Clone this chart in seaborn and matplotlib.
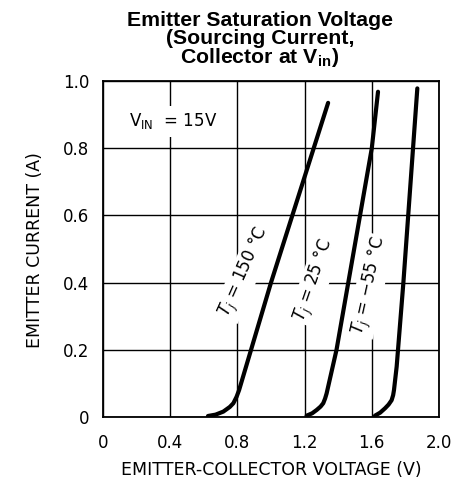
import numpy as np
import pandas as pd
import seaborn as sns
import matplotlib
matplotlib.use("Agg")
import matplotlib.pyplot as plt

# curves (V, A)
v_150 = [0.625, 0.67, 0.716, 0.755, 0.776, 0.795, 0.81, 1.0, 1.34]
i_150 = [0.003, 0.007, 0.016, 0.03, 0.041, 0.06, 0.08, 0.40, 0.935]
v_25 = [1.212, 1.245, 1.272, 1.295, 1.311, 1.322, 1.331, 1.39, 1.46, 1.60, 1.637]
i_25 = [0.004, 0.011, 0.021, 0.031, 0.041, 0.055, 0.07, 0.20, 0.40, 0.80, 0.968]
v_m55 = [1.619, 1.65, 1.679, 1.70, 1.718, 1.727, 1.732, 1.748, 1.788, 1.871]
i_m55 = [0.004, 0.013, 0.026, 0.037, 0.05, 0.065, 0.08, 0.15, 0.40, 0.978]

curve_labels = [r"$T_j$ = 150 °C", r"$T_j$ = 25 °C", r"$T_j$ = −55 °C"]
x_ticks = [0, 0.4, 0.8, 1.2, 1.6, 2.0]
x_tick_labels = ["0", "0.4", "0.8", "1.2", "1.6", "2.0"]
y_ticks = [0, 0.2, 0.4, 0.6, 0.8, 1.0]
y_tick_labels = ["0", "0.2", "0.4", "0.6", "0.8", "1.0"]

sns.set_style("white")
plt.rcParams["font.family"] = ["DejaVu Sans"]
plt.rcParams["text.color"] = "black"
plt.rcParams["mathtext.fontset"] = "custom"
plt.rcParams["mathtext.rm"] = "DejaVu Sans"
plt.rcParams["mathtext.it"] = "DejaVu Sans:italic"
plt.rcParams["mathtext.bf"] = "Liberation Sans:bold"

fig = plt.figure(figsize=(4.6, 4.96), dpi=100)
ax = fig.add_axes([103 / 460, 1 - 417 / 496, 336 / 460, 336 / 496])

for v, i in [(v_150, i_150), (v_25, i_25), (v_m55, i_m55)]:
    df = pd.DataFrame({"v": v, "i": i})
    sns.lineplot(data=df, x="v", y="i", ax=ax, color="black", lw=3,
                 sort=False, estimator=None, zorder=4)

ax.set_xlim(0, 2.0)
ax.set_ylim(0, 1.0)
ax.set_xticks(x_ticks)
ax.set_xticklabels(x_tick_labels)
ax.set_yticks(y_ticks)
ax.set_yticklabels(y_tick_labels)
ax.tick_params(axis="both", length=0, labelsize=12, colors="black")
ax.tick_params(axis="x", pad=12)
ax.tick_params(axis="y", pad=10)
ax.grid(True, color="black", lw=1.0)
ax.set_axisbelow(True)
for s in ax.spines.values():
    s.set_color("black")
    s.set_linewidth(1.3)
ax.set_xlabel("")
ax.set_ylabel("")

box = dict(facecolor="white", edgecolor="none", pad=1.5)
label_pos = [(0.845, 0.43, 66), (1.262, 0.405, 71), (1.59, 0.39, 77.5)]
for lab, (x, y, rot) in zip(curve_labels, label_pos):
    ax.text(x, y, lab, rotation=rot, ha="center", va="center", fontsize=12,
            bbox=box, zorder=3)

ax.text(0.42, 0.88, r"V$_{\rm IN}$  = 15V", ha="center", va="center",
        fontsize=12, bbox=dict(facecolor="white", edgecolor="none", pad=4), zorder=3)

fig.text(260 / 460, 1 - 40 / 496,
         "Emitter Saturation Voltage\n(Sourcing Current,\nCollector at V$_\\mathbf{in}$)",
         ha="center", va="center", fontsize=15.3, fontweight="bold",
         family="Liberation Sans", linespacing=0.88)
fig.text(35 / 460, 1 - 250 / 496, "EMITTER CURRENT (A)", rotation=90,
         ha="center", va="center", fontsize=12.5)
fig.text(271 / 460, 1 - 470 / 496, "EMITTER-COLLECTOR VOLTAGE (V)",
         ha="center", va="center", fontsize=12.5)

fig.savefig("out.png", dpi=100)
